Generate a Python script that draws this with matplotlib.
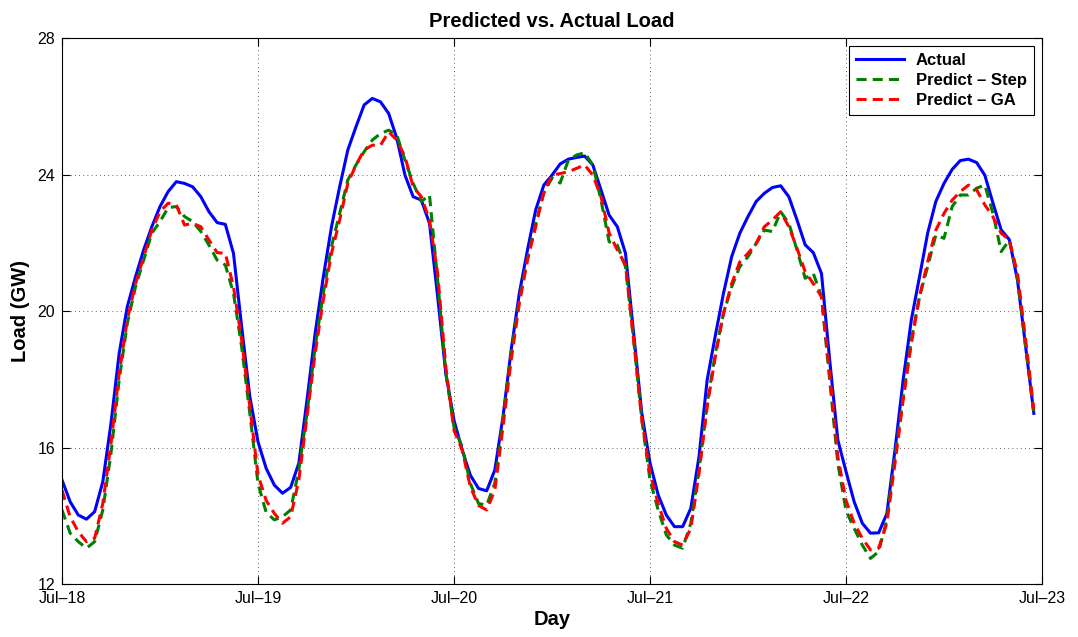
import numpy as np
import pandas as pd
import matplotlib
matplotlib.use("Agg")
import matplotlib.pyplot as plt
import matplotlib.dates as mdates

plt.rcParams['font.family'] = ['Liberation Sans', 'DejaVu Sans']

# hourly load, Jul-18 00:00 .. Jul-22 23:00 (GW)
actual = [15.05, 14.41, 14.02, 13.90, 14.12, 15.00, 16.71, 18.76, 20.13, 21.00,
          21.79, 22.47, 23.06, 23.50, 23.79, 23.74, 23.64, 23.35, 22.91, 22.59,
          22.54, 21.69, 19.54, 17.49,
          16.17, 15.39, 14.90, 14.66, 14.83, 15.54, 17.39, 19.35, 21.00, 22.47,
          23.64, 24.72, 25.40, 26.04, 26.23, 26.13, 25.79, 25.06, 23.98, 23.35,
          23.25, 22.57, 20.42, 18.17,
          16.80, 15.93, 15.19, 14.80, 14.73, 15.34, 16.90, 18.86, 20.52, 21.79,
          22.96, 23.69, 23.98, 24.31, 24.45, 24.50, 24.54, 24.28, 23.55, 22.81,
          22.47, 21.69, 19.35, 17.00,
          15.55, 14.61, 14.02, 13.68, 13.68, 14.22, 15.73, 17.98, 19.28, 20.52,
          21.59, 22.28, 22.77, 23.21, 23.45, 23.62, 23.67, 23.35, 22.67, 21.94,
          21.71, 21.10, 18.57, 16.22,
          15.30, 14.41, 13.78, 13.49, 13.50, 14.06, 15.93, 17.98, 19.74, 21.00,
          22.28, 23.21, 23.74, 24.15, 24.41, 24.45, 24.35, 23.98, 23.16, 22.38,
          22.09, 20.90, 18.95, 17.00]

predict_step = [14.17, 13.49, 13.24, 13.05, 13.24, 14.17, 15.83, 17.98, 19.64, 20.71,
                21.49, 22.28, 22.62, 23.03, 23.06, 22.77, 22.62, 22.33, 21.93, 21.49,
                21.35, 20.52, 18.95, 17.00,
                14.95, 14.10, 13.88, 13.97, 14.17, 15.34, 17.00, 18.95, 20.52, 21.89,
                22.86, 23.84, 24.28, 24.67, 25.01, 25.20, 25.30, 25.16, 24.42, 23.74,
                23.21, 23.40, 20.90, 18.17,
                16.60, 16.02, 14.95, 14.36, 14.31, 14.95, 16.81, 18.76, 20.32, 21.54,
                22.57, 23.45, 23.90, 23.75, 24.42, 24.57, 24.64, 24.28, 23.25, 22.03,
                21.93, 21.30, 19.15, 16.81,
                15.05, 14.17, 13.44, 13.14, 13.05, 13.78, 15.34, 17.29, 18.76, 19.93,
                20.71, 21.30, 21.59, 21.98, 22.37, 22.33, 22.91, 22.57, 21.79, 20.96,
                21.10, 20.42, 17.98, 15.54,
                14.15, 13.63, 13.14, 12.75, 12.95, 13.88, 15.73, 17.49, 19.15, 20.42,
                21.30, 22.23, 22.13, 23.06, 23.40, 23.40, 23.60, 23.69, 22.86, 21.74,
                22.08, 21.00, 18.95, 17.00]

predict_ga = [14.75, 13.97, 13.53, 13.24, 13.34, 14.36, 16.12, 18.17, 19.74, 20.80,
              21.59, 22.37, 22.91, 23.16, 23.11, 22.52, 22.57, 22.47, 22.08, 21.71,
              21.69, 20.71, 19.15, 17.20,
              15.20, 14.45, 14.07, 13.78, 13.97, 15.05, 16.90, 18.76, 20.33, 21.69,
              22.67, 23.74, 24.28, 24.72, 24.86, 24.86, 25.25, 25.01, 24.52, 23.64,
              23.35, 22.67, 21.10, 18.36,
              16.50, 15.93, 14.85, 14.30, 14.17, 14.75, 16.61, 18.56, 20.22, 21.49,
              22.47, 23.50, 23.98, 24.03, 24.08, 24.18, 24.28, 23.98, 23.35, 22.28,
              21.79, 21.35, 19.15, 16.81,
              15.25, 14.36, 13.63, 13.24, 13.14, 13.63, 15.24, 17.20, 18.66, 19.93,
              20.80, 21.44, 21.69, 21.98, 22.47, 22.67, 22.91, 22.47, 21.84, 21.15,
              20.80, 20.42, 18.17, 15.73,
              14.45, 13.78, 13.34, 13.00, 13.05, 13.78, 15.54, 17.39, 19.05, 20.42,
              21.44, 22.37, 22.86, 23.25, 23.50, 23.69, 23.55, 23.11, 22.76, 22.28,
              22.08, 21.10, 19.15, 17.10]

hours = pd.date_range("2013-07-18", periods=len(actual), freq="h")

fig = plt.figure(figsize=(10.78, 6.37), dpi=100)
ax = fig.add_axes([0.0575, 0.0832, 0.9091, 0.8571])

ax.plot(hours, actual, color=(0, 0, 1), lw=2.2, label="Actual")
ax.plot(hours, predict_step, color=(0, 0.5, 0), lw=2.2, dashes=(3.3, 2.0),
        label="Predict \u2013 Step")
ax.plot(hours, predict_ga, color=(1, 0, 0), lw=2.2, dashes=(3.3, 2.0),
        label="Predict \u2013 GA")

ax.set_xlim(pd.Timestamp("2013-07-18"), pd.Timestamp("2013-07-23"))
ax.set_ylim(12, 28)
ax.set_yticks([12, 16, 20, 24, 28])
ax.xaxis.set_major_locator(mdates.DayLocator())
ax.xaxis.set_major_formatter(mdates.DateFormatter("%b\u2013%d"))

ax.grid(True, color="black", linestyle=(0, (1, 4)), linewidth=0.6, alpha=0.8)
ax.tick_params(direction="in", top=True, right=True, length=6, width=0.8,
               labelsize=11.5, pad=5)
for s in ax.spines.values():
    s.set_linewidth(0.8)

ax.set_title("Predicted vs. Actual Load", fontsize=14.5, fontweight="bold", pad=8)
ax.set_xlabel("Day", fontsize=14.5, fontweight="bold", labelpad=3)
ax.set_ylabel("Load (GW)", fontsize=14.5, fontweight="bold", labelpad=5)

leg = ax.legend(loc="upper right", prop={"weight": "bold", "size": 12},
                fancybox=False, edgecolor="black", framealpha=1,
                handlelength=2.9, handletextpad=0.7, borderaxespad=0.5,
                labelspacing=0.3)
leg.get_frame().set_linewidth(0.8)

fig.savefig("out.png", dpi=100)
